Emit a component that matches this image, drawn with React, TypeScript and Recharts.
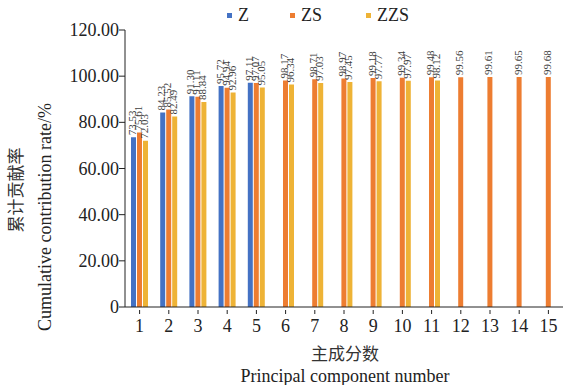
import { BarChart, Bar, XAxis, YAxis, LabelList } from 'recharts';

const components = ['1', '2', '3', '4', '5', '6', '7', '8', '9', '10', '11', '12', '13', '14', '15'];
const zValues = [73.53, 84.23, 91.3, 95.72, 97.11];
const zsValues = [75.61, 85.52, 91.11, 94.94, 97.07, 98.17, 98.71, 98.97, 99.18, 99.34, 99.48, 99.56, 99.61, 99.65, 99.68];
const zzsValues = [72.03, 82.49, 88.84, 92.96, 95.05, 96.34, 97.03, 97.45, 97.77, 97.97, 98.12];
const yTicks = [0, 20, 40, 60, 80, 100, 120];

const SERIF = '"Liberation Serif", "Times New Roman", serif';
const CJK = '"Noto Sans CJK SC", serif';

const data = components.map((c, i) => ({
  name: c,
  Z: zValues[i] ?? null,
  ZS: zsValues[i] ?? null,
  ZZS: zzsValues[i] ?? null,
}));

const series = [
  { key: 'Z', color: '#4472C4', left: 227 },
  { key: 'ZS', color: '#ED7D31', left: 290 },
  { key: 'ZZS', color: '#EEB336', left: 366 },
];

const renderValue = (props: any) => {
  const { x, y, width, value } = props;
  if (value == null) return null;
  const cx = x + width / 2 + 2.5;
  const cy = y - 2;
  return (
    <text
      x={cx}
      y={cy}
      transform={`rotate(-90, ${cx}, ${cy})`}
      textAnchor="start"
      fontSize={11}
      fontFamily={SERIF}
      fill="#404040"
    >
      {Number(value).toFixed(2)}
    </text>
  );
};

const XTick = (props: any) => {
  const { x, y, payload } = props;
  return (
    <g>
      <line x1={x} x2={x} y1={y - 1} y2={y - 5} stroke="#222" />
      <text x={x} y={y + 17} textAnchor="middle" fontSize={18} fontFamily={SERIF} fill="#222">
        {payload.value}
      </text>
    </g>
  );
};

const YTick = (props: any) => {
  const { x, y, payload } = props;
  const v = payload.value as number;
  return (
    <text x={x + 2} y={y + 6} textAnchor="end" fontSize={18} fontFamily={SERIF} fill="#222">
      {v === 0 ? '0' : v.toFixed(2)}
    </text>
  );
};

export default function App() {
  return (
    <div style={{ position: 'absolute', left: 0, top: 0, width: 567, height: 385, background: '#fff' }}>
      <BarChart
        width={567}
        height={385}
        data={data}
        margin={{ top: 30, right: 4, left: 0, bottom: 48 }}
        barSize={5}
        barGap={1}
      >
        <XAxis
          dataKey="name"
          height={30}
          axisLine={{ stroke: '#222' }}
          tickLine={false}
          tick={<XTick />}
          interval={0}
        />
        <YAxis
          width={125}
          domain={[0, 120]}
          ticks={yTicks}
          axisLine={{ stroke: '#222' }}
          tickLine={{ stroke: '#222' }}
          tickSize={6}
          tick={<YTick />}
          label={{
            content: () => (
              <g>
                <text
                  x={22}
                  y={190}
                  transform="rotate(-90, 22, 190)"
                  textAnchor="middle"
                  fontSize={17}
                  fontFamily={CJK}
                  fill="#333"
                >
                  累计贡献率
                </text>
                <text
                  x={51}
                  y={217}
                  transform="rotate(-90, 51, 217)"
                  textAnchor="middle"
                  fontSize={18}
                  fontFamily={SERIF}
                  fill="#222"
                >
                  Cumulative contribution rate/%
                </text>
              </g>
            ),
          }}
        />
        {series.map((s) => (
          <Bar key={s.key} dataKey={s.key} fill={s.color} isAnimationActive={false}>
            <LabelList dataKey={s.key} content={renderValue} />
          </Bar>
        ))}
      </BarChart>
      {series.map((s) => (
        <div
          key={s.key}
          style={{
            position: 'absolute',
            left: s.left,
            top: 5,
            display: 'flex',
            alignItems: 'center',
            fontFamily: SERIF,
            fontSize: 18,
            color: '#222',
          }}
        >
          <span style={{ display: 'inline-block', width: 5, height: 5, background: s.color, marginRight: 6 }} />
          <span>{s.key}</span>
        </div>
      ))}
      <div
        style={{
          position: 'absolute',
          left: 0,
          width: 690,
          top: 340,
          textAlign: 'center',
          fontFamily: CJK,
          fontSize: 17,
          color: '#333',
        }}
      >
        主成分数
      </div>
      <div
        style={{
          position: 'absolute',
          left: 0,
          width: 690,
          top: 366,
          textAlign: 'center',
          fontFamily: SERIF,
          fontSize: 18,
          color: '#222',
        }}
      >
        Principal component number
      </div>
    </div>
  );
}
